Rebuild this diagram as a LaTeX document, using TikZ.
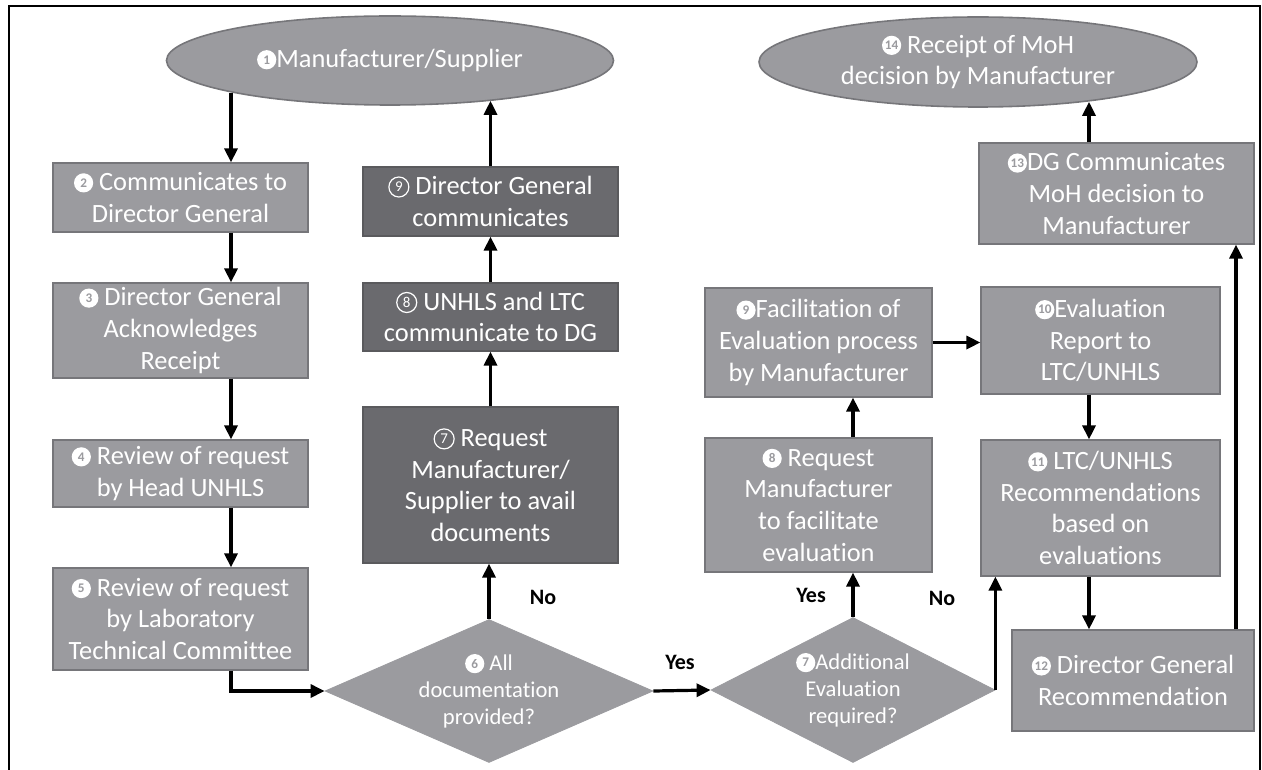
\documentclass[tikz,border=0pt]{standalone}
\usepackage{fontspec}
\setmainfont[Ligatures=NoCommon]{Carlito}
\usetikzlibrary{calc,shapes.geometric,arrows.meta}

\definecolor{boxgrey}{RGB}{155,155,159}
\definecolor{darkgrey}{RGB}{106,106,110}
\definecolor{edgegrey}{RGB}{118,118,122}

% filled and open step numbers
\newcommand{\cnum}[1]{\tikz[baseline=-0.62ex]\node[circle,fill=white,inner sep=0pt,minimum size=9.6pt,text=boxgrey,font=\fontsize{6.6}{6.6}\selectfont\bfseries]{#1};}
\newcommand{\onum}[1]{\tikz[baseline=-0.62ex]\node[circle,draw=white,line width=0.6pt,inner sep=0pt,minimum size=10pt,text=white,font=\fontsize{7.5}{7.5}\selectfont]{#1};}

\begin{document}
\begin{tikzpicture}[x=0.5pt,y=-0.5pt,
    boxsize/.style 2 args={minimum width=#1*0.5pt,minimum height=#2*0.5pt},
    box/.style={rectangle,fill=boxgrey,draw=edgegrey,line width=0.6pt,text=white,
        align=center,inner sep=0pt,font=\fontsize{13.2}{15.8}\selectfont},
    darkbox/.style={box,fill=darkgrey,draw=darkgrey!85!black},
    oval/.style={ellipse,fill=boxgrey,draw=edgegrey,line width=0.8pt,text=white,
        align=center,inner sep=0pt,font=\fontsize{13.2}{15.8}\selectfont},
    decision/.style={diamond,aspect=2,fill=boxgrey,draw=boxgrey,text=white,
        align=center,inner sep=-2pt,font=\fontsize{11.3}{13.5}\selectfont},
    answer/.style={font=\fontsize{11}{13}\selectfont\bfseries},
    arr/.style={-{Triangle[length=7pt,width=6.5pt]},line width=1.6pt}]

\useasboundingbox (0,0) rectangle (1262,770);

% Frame round the chart.
\draw[line width=1.2pt] (9,770) -- (9,6) -- (1260,6) -- (1260,770);

% Arrow columns that are not box centres.
\coordinate (colA) at (231,0);
\coordinate (colC) at (853,0);
\coordinate (colD) at (1089,0);
\coordinate (colF) at (1236,0);

% Start and end ovals.
\node[oval,boxsize={447}{89}] (e1) at (390,60.5) {\cnum{1}Manufacturer/Supplier};
\node[oval,boxsize={438}{90}] (e14) at (978,62)
    {\cnum{14} Receipt of MoH\\decision by Manufacturer};

% Left column: request and review.
\node[box,boxsize={255}{69}] (b2) at (180.5,197.5) {\cnum{2} Communicates to\\Director General};
\node[box,boxsize={255}{95}] (b3) at (180.5,330.5)
    {\cnum{3} Director General\\Acknowledges\\Receipt};
\node[box,boxsize={255}{67}] (b4) at (180.5,473.5) {\cnum{4} Review of request\\by Head UNHLS};
\node[box,boxsize={255}{102}] (b5) at (180.5,619)
    {\cnum{5} Review of request\\by Laboratory\\Technical Committee};

% Second column: missing documents.
\node[darkbox,boxsize={255}{69}] (b9) at (490.5,201.5) {\onum{9} Director General\\communicates};
\node[darkbox,boxsize={255}{68}] (b8) at (490.5,317) {\onum{8} UNHLS and LTC\\communicate to DG};
\node[darkbox,boxsize={255}{156}] (b7) at (490.5,485)
    {\onum{7} Request\\Manufacturer/\\Supplier to avail\\documents};

% Decisions.
\node[decision,boxsize={328}{143}] (d6) at (489,691) {\cnum{6} All\\documentation\\provided?};
\node[decision,boxsize={284}{145}] (d7) at (853,690) {\cnum{7}Additional\\Evaluation\\required?};

% Evaluation branch.
\node[box,boxsize={227}{134}] (b8b) at (818.5,505)
    {\cnum{8} Request\\Manufacturer\\to facilitate\\evaluation};
\node[box,boxsize={227}{109}] (b9b) at (818.5,342.5)
    {\cnum{9}Facilitation of\\Evaluation process\\by Manufacturer};
\node[box,boxsize={239}{107}] (b10) at (1100.5,340.5) {\cnum{10}Evaluation\\Report to\\LTC/UNHLS};
\node[box,boxsize={239}{136}] (b11) at (1100.5,508)
    {\cnum{11} LTC/UNHLS\\Recommendations\\based on\\evaluations};
\node[box,boxsize={242}{101}] (b12) at (1133,680.5) {\cnum{12} Director General\\Recommendation};
\node[box,boxsize={275}{101}] (b13) at (1116.5,193.5)
    {\cnum{13}DG Communicates\\MoH decision to\\Manufacturer};

% Yes / No labels.
\node[answer] (no6) at (543,597) {No};
\node[answer] (yes6) at (680,662) {Yes};
\node[answer] (yes7) at (811,595) {Yes};
\node[answer] (no7) at (942,598) {No};

% Left column arrows.
\draw[arr] ($(e1.south -| colA)+(0,-13)$) -- (b2.north -| colA);
\foreach \a/\b in {b2/b3,b3/b4,b4/b5}
    \draw[arr] (\a.south -| colA) -- (\b.north -| colA);
\draw[arr] (b5.south -| colA) |- (d6.west);

% No: back up to the manufacturer.
\draw[arr] (d6.north) -- (d6.north |- b7.south);
\foreach \a/\b in {b7/b8,b8/b9}
    \draw[arr] (\a.north) -- (\b.south);
\draw[arr] (b9.north) -- ($(e1.south -| b9.north)+(0,-5)$);

% Yes: on to evaluation.
\draw[arr] (d6.east) -- (d7.west);
\draw[arr] (d7.north) -- (b8b.south -| colC);
\draw[arr] (b8b.north -| colC) -- (b9b.south -| colC);
\draw[arr] (b9b.east) -- (b9b.east -| b10.west);
\draw[arr] (d7.east) -- (d7.east |- b11.south);

% Right column arrows.
\draw[arr] (b10.south -| colD) -- (b11.north -| colD);
\draw[arr] (b11.south -| colD) -- (b12.north -| colD);
\draw[arr] (b12.north -| colF) -- (b13.south -| colF);
\draw[arr] (b13.north -| colD) -- ($(e14.south -| colD)+(0,-6)$);

\end{tikzpicture}
\end{document}
